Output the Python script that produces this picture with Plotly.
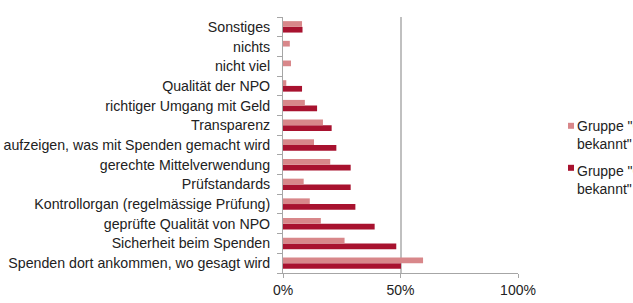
import plotly.graph_objects as go

categories = [
    "Spenden dort ankommen, wo gesagt wird",
    "Sicherheit beim Spenden",
    "geprüfte Qualität von NPO",
    "Kontrollorgan (regelmässige Prüfung)",
    "Prüfstandards",
    "gerechte Mittelverwendung",
    "aufzeigen, was mit Spenden gemacht wird",
    "Transparenz",
    "richtiger Umgang mit Geld",
    "Qualität der NPO",
    "nicht viel",
    "nichts",
    "Sonstiges",
]
group_known = [59.6, 26.2, 16.1, 11.4, 8.8, 20.1, 13.2, 17.0, 9.3, 1.4, 3.4, 2.9, 8.1]
group_unknown = [50.2, 48.2, 39.0, 30.8, 28.8, 28.8, 22.7, 20.7, 14.5, 8.1, 0, 0, 8.3]
name_known = 'Gruppe "Gütesiegel<br>bekannt"'
name_unknown = 'Gruppe "Gütesiegel nicht<br>bekannt"'
color_known = "#d8878a"
color_unknown = "#a8122f"

font = "Liberation Sans, Arial, sans-serif"

L, R, T, B = 283, 115, 17, 30
W, H = 633, 303
pw, ph = W - L - R, H - T - B


def px_x(p):
    return (p - L) / pw


def px_y(p):
    return (H - B - p) / ph


fig = go.Figure()
fig.add_trace(go.Bar(y=categories, x=group_unknown, orientation="h", name=name_unknown,
                     marker=dict(color=color_unknown, line=dict(width=0))))
fig.add_trace(go.Bar(y=categories, x=group_known, orientation="h", name=name_known,
                     marker=dict(color=color_known, line=dict(width=0))))

# manual legend (text runs past the right edge as in the original)
legend_items = [(name_known, color_known, 125.8, 134.5), (name_unknown, color_unknown, 167.8, 180)]
for name, col, my, ty in legend_items:
    fig.add_shape(type="rect", xref="paper", yref="paper",
                  x0=px_x(568), x1=px_x(574), y0=px_y(my - 3), y1=px_y(my + 3),
                  fillcolor=col, line=dict(width=0))
    fig.add_annotation(xref="paper", yref="paper", x=px_x(575), y=px_y(ty),
                       xanchor="left", yanchor="middle", align="left",
                       text=name, showarrow=False,
                       font=dict(family=font, size=14, color="#222222"))

fig.update_layout(
    width=W, height=H,
    margin=dict(l=L, r=R, t=T, b=B, autoexpand=False),
    paper_bgcolor="white", plot_bgcolor="white",
    barmode="group", bargap=0.42, bargroupgap=0,
    font=dict(family=font, size=14, color="#222222"),
    showlegend=False,
    xaxis=dict(range=[0, 100], tickvals=[0, 50, 100], ticktext=["0%", "50%", "100%"],
               showgrid=True, gridcolor="#c0c0c0", gridwidth=1.5,
               showline=True, linecolor="#a6a6a6", linewidth=1,
               ticks="outside", ticklen=4, tickcolor="#a6a6a6",
               zeroline=False, tickfont=dict(size=14), fixedrange=True),
    yaxis=dict(showline=True, linecolor="#a6a6a6", linewidth=1,
               ticks="outside", ticklen=5, tickcolor="#a6a6a6", tickson="boundaries",
               showgrid=False, tickfont=dict(size=14.2), ticklabelstandoff=9),
)

fig.write_html("out.html")
